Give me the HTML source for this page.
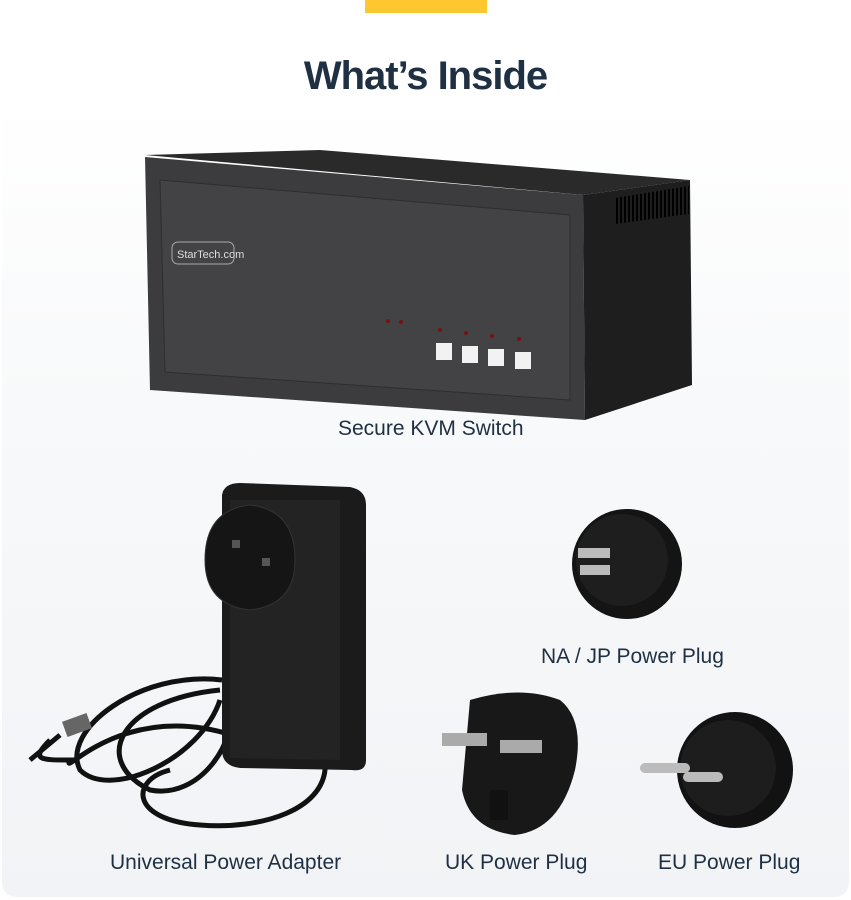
<!DOCTYPE html>
<html><head><meta charset="utf-8"><style>
html,body{margin:0;padding:0;width:851px;height:900px;overflow:hidden;background:#fff;font-family:"Liberation Sans",sans-serif}
.panel{position:absolute;left:2px;top:100px;width:847px;height:797px;border-radius:0 0 14px 14px;background:linear-gradient(#fff 0%,#f9fafb 30%,#f1f3f6 100%)}
.bar{position:absolute;left:365px;top:0;width:122px;height:13px;background:#fdc82f}
h1{position:absolute;top:54px;left:0;width:851px;text-align:center;margin:0;font-size:40px;font-weight:bold;color:#1f3042;letter-spacing:-1px}
.lbl{position:absolute;font-size:21px;color:#1f3042;white-space:nowrap}
svg{position:absolute;left:0;top:0}
</style></head><body>
<div class="panel"></div>
<div class="bar"></div>
<h1>What’s Inside</h1>
<svg width="851" height="900">
<defs><pattern id="v" width="4" height="40" patternUnits="userSpaceOnUse"><rect width="2" height="40" fill="#000"/></pattern></defs>
<!-- KVM -->
<polygon points="145,155 320,150 690,180 583,195" fill="#2a2a2a"/>
<polygon points="145,157 583,195 585,420 150,390" fill="#3c3c3e"/>
<polygon points="160,180 570,215 570,400 165,372" fill="#434345" stroke="#2e2e30"/>
<polygon points="583,195 690,180 692,385 585,420" fill="#1e1e1f"/>
<polygon points="615,198 689,186 689,214 615,224" fill="url(#v)"/>
<rect x="172" y="242" width="62" height="22" rx="6" fill="none" stroke="#aaa"/>
<text x="177" y="258" font-size="11" fill="#ddd" font-family="Liberation Sans">StarTech.com</text>
<g fill="#f2f2f2"><rect x="436" y="343" width="16" height="17"/><rect x="462" y="346" width="16" height="17"/><rect x="488" y="349" width="16" height="17"/><rect x="515" y="352" width="16" height="17"/></g>
<g fill="#7a1010"><circle cx="388" cy="321" r="2"/><circle cx="401" cy="322" r="2"/><circle cx="440" cy="330" r="2"/><circle cx="466" cy="333" r="2"/><circle cx="492" cy="336" r="2"/><circle cx="519" cy="339" r="2"/></g>
<!-- adapter cable -->
<g fill="none" stroke="#111" stroke-width="5">
<path d="M232,735 C120,700 60,780 70,760 C40,760 30,760 50,740"/>
<path d="M222,680 C140,670 60,730 80,770 C110,800 200,760 220,700"/>
<path d="M220,690 C120,700 90,760 150,790 C200,800 240,740 230,700"/>
<path d="M325,760 C330,810 260,830 200,825 C130,820 130,780 170,770"/>
<path d="M60,735 L30,760"/>
</g>
<rect x="64" y="717" width="26" height="16" fill="#666" transform="rotate(-20 77 725)"/>
<!-- adapter body -->
<path d="M222,495 Q224,483 240,483 L350,487 Q366,490 366,505 L366,760 Q366,772 352,770 L240,768 Q222,766 222,750 Z" fill="#1b1b1b"/>
<path d="M230,500 L340,500 L340,760 L230,758 Z" fill="#232323"/>
<path d="M205,560 Q205,510 250,505 Q295,510 295,560 Q295,605 250,610 Q205,605 205,560Z" fill="#151515" stroke="#333"/>
<rect x="232" y="540" width="8" height="8" fill="#555"/><rect x="262" y="558" width="8" height="8" fill="#555"/>
<!-- NA plug -->
<circle cx="627" cy="564" r="55" fill="#141414"/>
<circle cx="622" cy="560" r="46" fill="#1e1e1e"/>
<rect x="578" y="548" width="32" height="10" fill="#bbb"/><rect x="580" y="565" width="30" height="10" fill="#bbb"/>
<!-- UK plug -->
<path d="M470,700 Q520,685 560,700 Q585,720 575,770 Q560,830 515,835 Q470,830 462,790 Z" fill="#181818"/>
<rect x="442" y="733" width="45" height="13" fill="#aaa"/><rect x="500" y="740" width="42" height="13" fill="#aaa"/>
<rect x="490" y="790" width="18" height="30" fill="#111"/>
<!-- EU plug -->
<circle cx="735" cy="770" r="58" fill="#121212"/>
<circle cx="728" cy="768" r="48" fill="#1d1d1d"/>
<rect x="640" y="763" width="50" height="10" rx="5" fill="#bbb"/><rect x="683" y="772" width="40" height="10" rx="5" fill="#bbb"/>
</svg>
<div class="lbl" style="left:338px;top:417px">Secure KVM Switch</div>
<div class="lbl" style="left:541px;top:645px">NA / JP Power Plug</div>
<div class="lbl" style="left:110px;top:851px">Universal Power Adapter</div>
<div class="lbl" style="left:445px;top:851px">UK Power Plug</div>
<div class="lbl" style="left:658px;top:851px">EU Power Plug</div>
</body></html>
